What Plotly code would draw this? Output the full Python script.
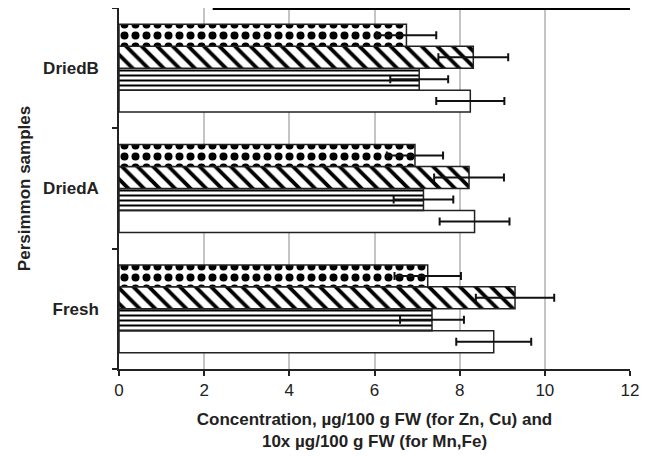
import plotly.graph_objects as go

samples = ["Fresh", "DriedA", "DriedB"]

# series listed bottom-to-top within each group
s_white = [8.8, 8.35, 8.25]
s_white_err = [0.88, 0.82, 0.8]
s_hline = [7.35, 7.15, 7.05]
s_hline_err = [0.75, 0.7, 0.68]
s_hatch = [9.3, 8.22, 8.32]
s_hatch_err = [0.92, 0.82, 0.82]
s_dot = [7.25, 6.95, 6.75]
s_dot_err = [0.78, 0.66, 0.7]

x_ticks = [0, 2, 4, 6, 8, 10, 12]

font_family = "Liberation Sans, Arial, sans-serif"

def make_trace(name, vals, errs, shape, size, solidity):
    return go.Bar(
        name=name, y=samples, x=vals, orientation="h",
        marker=dict(
            color="white",
            line=dict(color="#222222", width=1.5),
            pattern=dict(shape=shape, fgcolor="black", fgopacity=1, bgcolor="white",
                         size=size, solidity=solidity, fillmode="replace"),
        ),
        error_x=dict(type="data", array=errs, visible=True,
                     color="#111111", thickness=2, width=4),
        showlegend=False,
    )

fig = go.Figure()
fig.add_trace(make_trace("Series 4", s_white, s_white_err, "", 8, 0.3))
fig.add_trace(make_trace("Series 3", s_hline, s_hline_err, "-", 5, 0.4))
fig.add_trace(make_trace("Series 2", s_hatch, s_hatch_err, "\\", 11, 0.35))
fig.add_trace(make_trace("Series 1", s_dot, s_dot_err, ".", 11, 0.42))

fig.update_layout(
    width=646, height=448,
    margin=dict(l=111, r=24, t=0, b=87),
    paper_bgcolor="white", plot_bgcolor="white",
    barmode="group", bargap=0.27, bargroupgap=0,
    font=dict(family=font_family, color="#222222"),
    xaxis=dict(
        range=[0, 12], tickvals=x_ticks, ticktext=[str(v) for v in x_ticks],
        showgrid=True, gridcolor="#c4c4c4", gridwidth=1.5,
        showline=True, linecolor="#222222", linewidth=1.5,
        ticks="outside", ticklen=5, tickcolor="#222222", tickwidth=1.5,
        tickfont=dict(size=17, family=font_family),
        zeroline=False,
        title=dict(text="<b>Concentration, µg/100 g FW (for Zn, Cu) and<br>10x µg/100 g FW (for Mn,Fe)</b>",
                   font=dict(size=17, family=font_family), standoff=14),
    ),
    yaxis=dict(
        categoryorder="array", categoryarray=samples,
        range=[-0.5, 2.5],
        showline=True, linecolor="#222222", linewidth=1.5,
        ticks="outside", ticklen=5, tickcolor="#222222", tickwidth=1.5,
        tickson="boundaries",
        tickfont=dict(size=17, family=font_family),
        ticklabelstandoff=15,
        showgrid=False, zeroline=False,
        title=dict(text="<b>Persimmon samples</b>", font=dict(size=17, family=font_family), standoff=8),
    ),
)
fig.update_yaxes(tickprefix="<b>", ticksuffix="</b>")

fig.add_shape(type="line", xref="x", yref="paper", x0=2.2, x1=12, y0=1, y1=1,
              line=dict(color="black", width=4))

fig.write_html("out.html")
